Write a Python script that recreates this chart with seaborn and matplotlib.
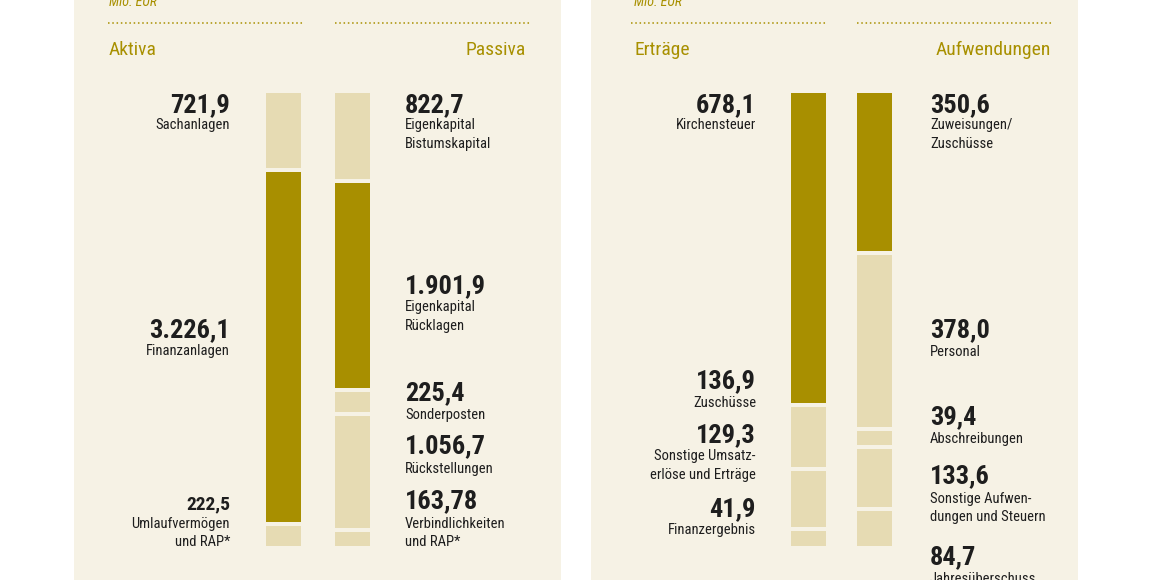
import matplotlib
matplotlib.use("Agg")
import matplotlib.pyplot as plt
from matplotlib.patches import Rectangle
from matplotlib.lines import Line2D
from matplotlib import font_manager
import seaborn as sns

# ---------------- data ----------------
bilanz_cats = ["Aktiva", "Passiva"]
aktiva_values = [721.9, 3226.1, 222.5]
aktiva_labels = [["Sachanlagen"], ["Finanzanlagen"], ["Umlaufvermögen", "und RAP*"]]
aktiva_dark = [False, True, False]
passiva_values = [822.7, 1901.9, 225.4, 1056.7, 163.78]
passiva_labels = [["Eigenkapital", "Bistumskapital"], ["Eigenkapital", "Rücklagen"],
                  ["Sonderposten"], ["Rückstellungen"], ["Verbindlichkeiten", "und RAP*"]]
passiva_dark = [False, True, False, False, False]

guv_cats = ["Erträge", "Aufwendungen"]
ertraege_values = [678.1, 136.9, 129.3, 41.9]
ertraege_labels = [["Kirchensteuer"], ["Zuschüsse"], ["Sonstige Umsatz-", "erlöse und Erträge"],
                   ["Finanzergebnis"]]
ertraege_dark = [True, False, False, False]
aufw_values = [350.6, 378.0, 39.4, 133.6, 84.7]
aufw_labels = [["Zuweisungen/", "Zuschüsse"], ["Personal"], ["Abschreibungen"],
               ["Sonstige Aufwen-", "dungen und Steuern"], ["Jahresüberschuss"]]
aufw_dark = [True, False, False, False, False]
unit_label = "Mio. EUR"

# ---------------- style ----------------
W, H = 1159, 580
BG = "#f6f2e5"
DARK = "#a88f00"
LIGHT = "#e6dbb3"
TXT = "#1e1e1e"
HEAD = "#a89000"

sns.set_theme(style="white")
installed = {f.name for f in font_manager.fontManager.ttflist}
fams = [f for f in ["Roboto Condensed", "Liberation Sans Narrow", "Open Sans Condensed",
                    "Roboto", "DejaVu Sans"] if f in installed]
plt.rcParams["font.family"] = fams + ["DejaVu Sans"]
CONDENSED = fams[0] in ("Roboto Condensed", "Liberation Sans Narrow", "Open Sans Condensed")
SCALE = 1.0 if CONDENSED else 0.92

fig = plt.figure(figsize=(W / 100, H / 100), dpi=100)
fig.patch.set_facecolor("white")


def fx(x):
    return x / W


def fy(y):
    return 1 - y / H


def ptext(x, y, s, **kw):
    fig.text(fx(x), fy(y), s, va="baseline", **kw)


def fmt(v):
    return f"{v:,}".replace(",", "X").replace(".", ",").replace("X", ".")


# panel backgrounds
for x0, x1 in [(74, 561), (591, 1078)]:
    fig.patches.append(Rectangle((fx(x0), 0), fx(x1) - fx(x0), 1, transform=fig.transFigure,
                                 facecolor=BG, edgecolor="none", zorder=-5))

GAP_PX = 4
LW = GAP_PX * 72 / 100


def stacked(ax_px, cats, series, darks, spacing):
    left, right = ax_px
    ax = fig.add_axes([fx(left), fy(548), fx(right) - fx(left), (548 - 91) / H])
    ax.patch.set_alpha(0)
    ax.set_zorder(2)
    width = (35 + GAP_PX) / spacing
    for cat, vals, dk in zip(cats, series, darks):
        base = 0.0
        for v, d in zip(vals, dk):
            sns.barplot(x=[cat], y=[v], order=cats, bottom=base, color=DARK if d else LIGHT,
                        saturation=1, width=width, edgecolor=BG, linewidth=LW, ax=ax,
                        errorbar=None)
            base += v
    total = max(sum(s) for s in series)
    ax.set_xlim(-1, 2)
    ax.set_ylim(total, 0)
    ax.axis("off")
    return ax


stacked((214.5, 421.5), bilanz_cats, [aktiva_values, passiva_values], [aktiva_dark, passiva_dark], 69)
stacked((742.5, 940.5), guv_cats, [ertraege_values, aufw_values], [ertraege_dark, aufw_dark], 66)

# headers
for (xl, xr, dl1, dr1, dl2, dr2, cats) in [
    (109, 526, 108, 303, 335, 530, bilanz_cats),
    (634, 1051, 631, 826, 857, 1052, guv_cats),
]:
    ptext(xl, 6, unit_label, ha="left", color=HEAD, fontsize=10 * SCALE, style="italic")
    for a, b in [(dl1, dr1), (dl2, dr2)]:
        fig.add_artist(Line2D([fx(a), fx(b)], [fy(22.5), fy(22.5)], transform=fig.transFigure,
                              color=HEAD, lw=1.1, linestyle=(0, (1, 1.8)),
                              dash_capstyle="butt"))
    ptext(xl, 55, cats[0], ha="left", color=HEAD, fontsize=14 * SCALE)
    ptext(xr, 55, cats[1], ha="right", color=HEAD, fontsize=14 * SCALE)


def labels(x, ha, values, names, baselines, big=None):
    for i, (v, nm, (yb, ylines)) in enumerate(zip(values, names, baselines)):
        fs = 19 if (big is None or big[i]) else 14
        ptext(x, yb, fmt(v), ha=ha, color=TXT, fontsize=fs * SCALE, fontweight="bold")
        for line, yl in zip(nm, ylines):
            ptext(x, yl, line, ha=ha, color=TXT, fontsize=10.5 * SCALE)


labels(230, "right", aktiva_values, aktiva_labels,
       [(112, [129]), (337, [355]), (509, [528, 546])], big=[True, True, False])
labels(405, "left", passiva_values, passiva_labels,
       [(112, [129, 148]), (293, [311, 330]), (400, [419]), (453, [473]), (508, [528, 546])])
labels(756, "right", ertraege_values, ertraege_labels,
       [(112, [129]), (388, [407]), (442, [460, 479]), (516, [534])])
labels(930, "left", aufw_values, aufw_labels,
       [(112, [129, 148]), (337, [356]), (424, [443]), (483, [503, 521]), (564, [583])])

fig.savefig("out.png", dpi=100, facecolor="white")
